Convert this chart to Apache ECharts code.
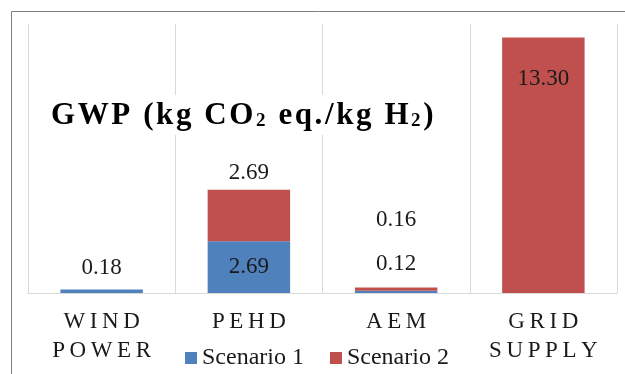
<!DOCTYPE html>
<html>
<head>
<meta charset="utf-8">
<script src="https://cdn.jsdelivr.net/npm/echarts@6/dist/echarts.min.js"></script>
<style>
  html, body { margin: 0; padding: 0; background: #fff; }
  #chart { width: 625px; height: 374px; }
</style>
</head>
<body>
<div id="chart"></div>
<script>
// chart values
const categories = ['WIND POWER', 'PEHD', 'AEM', 'GRID SUPPLY'];
const scenario1 = [0.18, 2.69, 0.12, 0];
const scenario2 = [0, 2.69, 0.16, 13.30];
const seriesNames = ['Scenario 1', 'Scenario 2'];

const SERIF = '"Liberation Serif", "DejaVu Serif", serif';
const labelColor = '#1a1a1a';

// how each value label is placed (Excel put some of them by hand)
const s1Label = [
    { position: 'top', distance: 10 },
    { position: 'inside' },
    { position: 'top', distance: 15 },
    null
];
const s2Label = [
    null,
    { position: 'top', distance: 5 },
    { position: 'top', distance: 56 },
    { position: 'insideTop', distance: 30 }
];

function buildData (values, labels) {
    return values.map(function (v, i) {
        const lab = labels[i];
        return {
            value: v,
            label: lab ? Object.assign({ show: true }, lab) : { show: false }
        };
    });
}

// the original text is drawn with wide letter spacing
function spaced (str, sp) {
    return str.split('').join(sp);
}

const SP = '\u200a';
const titleText = spaced('GWP (kg CO', SP) + SP + '{sub|2}' + SP + spaced(' eq./kg H', SP) + SP + '{sub|2}' + SP + ')';

const chart = echarts.init(document.getElementById('chart'));

const options = {
    animation: false,
    textStyle: { fontFamily: SERIF },
    title: {
        text: titleText,
        left: 31,
        top: 95,
        padding: [5, 10, 4, 20],
        backgroundColor: '#fff',
        textStyle: {
            fontFamily: SERIF,
            fontWeight: 'bold',
            fontSize: 31,
            color: '#000',
            rich: {
                sub: {
                    fontFamily: SERIF,
                    fontWeight: 'bold',
                    fontSize: 19,
                    verticalAlign: 'bottom',
                    padding: [12, 0, 0, 0]
                }
            }
        }
    },
    legend: {
        top: 341,
        left: 180,
        icon: 'rect',
        itemWidth: 12,
        itemHeight: 12,
        itemGap: 26,
        textStyle: { fontFamily: SERIF, fontSize: 24, color: labelColor },
        data: seriesNames
    },
    grid: {
        left: 28,
        right: 8,
        top: 24,
        bottom: 81
    },
    xAxis: {
        type: 'category',
        data: categories,
        axisLine: { lineStyle: { color: '#d9d9d9' } },
        axisTick: { show: false },
        splitLine: { show: true, interval: 0, lineStyle: { color: '#d9d9d9' } },
        axisLabel: {
            interval: 0,
            hideOverlap: false,
            margin: 14,
            lineHeight: 29,
            fontSize: 23,
            color: labelColor,
            fontFamily: SERIF,
            formatter: function (name) {
                return name.split(' ').map(function (w) {
                    return spaced(w, '\u2009');
                }).join('\n');
            }
        }
    },
    yAxis: {
        type: 'value',
        min: 0,
        max: 14,
        show: false,
        splitLine: { show: false }
    },
    series: [{
        name: seriesNames[0],
        type: 'bar',
        stack: 'gwp',
        barWidth: '56%',
        itemStyle: { color: '#4f81bd' },
        label: { fontSize: 23, color: labelColor, fontFamily: SERIF, formatter: function (p) { return p.value.toFixed(2); } },
        data: buildData(scenario1, s1Label)
    }, {
        name: seriesNames[1],
        type: 'bar',
        stack: 'gwp',
        barWidth: '56%',
        itemStyle: { color: '#c0504d' },
        label: { fontSize: 23, color: labelColor, fontFamily: SERIF, formatter: function (p) { return p.value.toFixed(2); } },
        data: buildData(scenario2, s2Label)
    }],
    graphic: [{
        type: 'rect',
        silent: true,
        shape: { x: 11.5, y: 11.5, width: 700, height: 500 },
        style: { fill: 'none', stroke: '#7f7f7f', lineWidth: 1 }
    }]
};

chart.setOption(options);
</script>
</body>
</html>
